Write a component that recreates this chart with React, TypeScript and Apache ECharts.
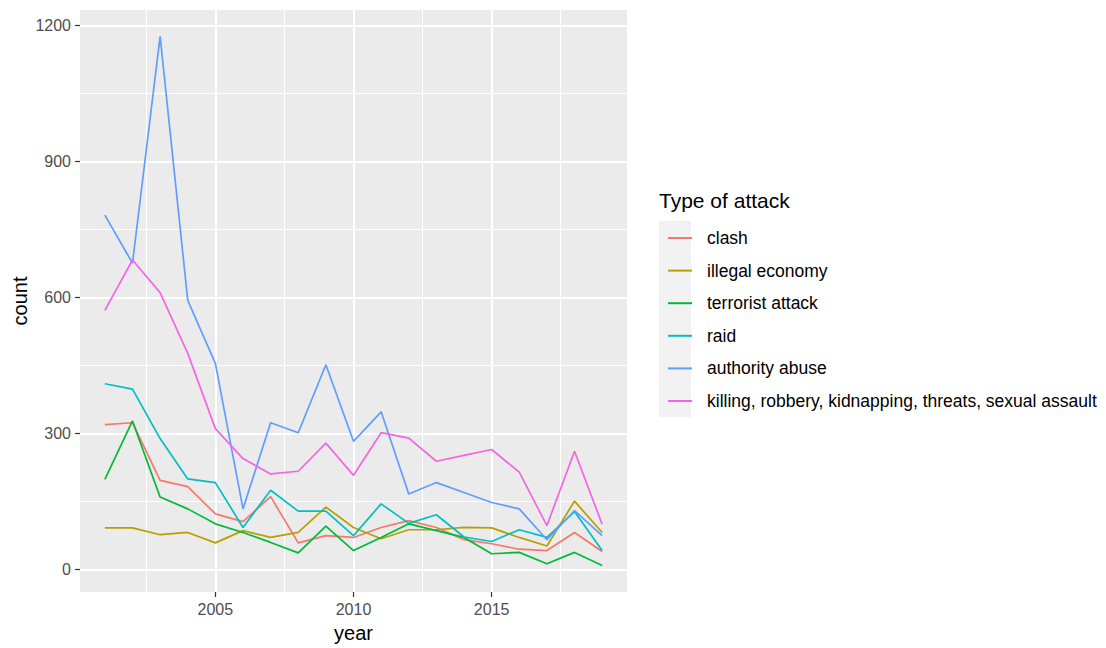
import React, { useEffect, useRef } from "react";
import * as echarts from "echarts";

const years = [2001, 2002, 2003, 2004, 2005, 2006, 2007, 2008, 2009, 2010, 2011, 2012, 2013, 2014, 2015, 2016, 2017, 2018, 2019];
const clash = [320, 324, 197, 183, 123, 106, 161, 59, 75, 71, 93, 108, 93, 66, 57, 45, 42, 82, 40];
const illegalEconomy = [92, 92, 77, 82, 59, 86, 71, 82, 138, 93, 68, 88, 88, 93, 92, 71, 52, 151, 82];
const terroristAttack = [199, 328, 160, 134, 101, 82, 60, 37, 96, 42, 71, 101, 86, 71, 35, 38, 13, 38, 9];
const raid = [410, 398, 289, 200, 192, 93, 175, 129, 129, 75, 145, 102, 121, 72, 62, 88, 71, 128, 42];
const authorityAbuse = [782, 676, 1176, 594, 455, 134, 324, 302, 452, 283, 348, 167, 192, 170, 148, 134, 66, 130, 75];
const killing = [572, 683, 611, 477, 311, 245, 211, 217, 279, 208, 302, 290, 239, 252, 265, 215, 97, 261, 100];

const seriesNames = [
  "clash",
  "illegal economy",
  "terrorist attack",
  "raid",
  "authority abuse",
  "killing, robbery, kidnapping, threats, sexual assault",
];
const seriesValues = [clash, illegalEconomy, terroristAttack, raid, authorityAbuse, killing];
const colors = ["#F8766D", "#B79F00", "#00BA38", "#00BFC4", "#619CFF", "#F564E3"];
const xTicks = [2005, 2010, 2015];
const yTicks = [0, 300, 600, 900, 1200];

const FONT = "'Liberation Sans', Arial, Helvetica, sans-serif";

export default function App() {
  const ref = useRef<HTMLDivElement>(null);
  useEffect(() => {
    if (!ref.current) return;
    const chart = echarts.init(ref.current, undefined, { renderer: "svg" });
    const series = seriesNames.map((name, i) => ({
      name,
      type: "line",
      data: years.map((y, j) => [y, seriesValues[i][j]]),
      showSymbol: false,
      symbol: "none",
      lineStyle: { width: 1.7, color: colors[i] },
      itemStyle: { color: colors[i] },
      emphasis: { disabled: true },
    }));
    chart.setOption({
      animation: false,
      textStyle: { fontFamily: FONT },
      grid: {
        left: 80,
        right: 479,
        top: 10,
        bottom: 56,
        show: true,
        backgroundColor: "#EBEBEB",
        borderWidth: 0,
      },
      xAxis: {
        type: "value",
        min: 2000.1,
        max: 2019.9,
        splitNumber: 4,
        name: "year",
        nameLocation: "middle",
        nameGap: 31,
        nameTextStyle: { color: "#000000", fontSize: 20, fontFamily: FONT, verticalAlign: "top" },
        axisLine: { show: false, onZero: false },
        axisTick: { show: true, length: 5, lineStyle: { color: "#333333", width: 1.2 }, customValues: xTicks },
        axisLabel: {
          color: "#4D4D4D",
          fontSize: 16,
          fontFamily: FONT,
          margin: 9,
          customValues: xTicks,
          formatter: (v: number) => String(Math.round(v)),
        },
        splitLine: { show: true, lineStyle: { color: "#FFFFFF", width: 2 } },
        minorTick: { show: false, splitNumber: 2 },
        minorSplitLine: { show: true, lineStyle: { color: "#FFFFFF", width: 1 } },
      },
      yAxis: {
        type: "value",
        min: -49.35,
        max: 1234.35,
        splitNumber: 4,
        name: "count",
        nameLocation: "middle",
        nameGap: 50,
        nameTextStyle: { color: "#000000", fontSize: 20, fontFamily: FONT },
        axisLine: { show: false, onZero: false },
        axisTick: { show: true, length: 5, lineStyle: { color: "#333333", width: 1.2 }, customValues: yTicks },
        axisLabel: {
          color: "#4D4D4D",
          fontSize: 16,
          fontFamily: FONT,
          margin: 9,
          customValues: yTicks,
          formatter: (v: number) => String(Math.round(v)),
        },
        splitLine: { show: true, lineStyle: { color: "#FFFFFF", width: 2 } },
        minorTick: { show: false, splitNumber: 2 },
        minorSplitLine: { show: true, lineStyle: { color: "#FFFFFF", width: 1 } },
      },
      legend: {
        orient: "vertical",
        left: 663,
        top: 223,
        icon: "rect",
        itemWidth: 24,
        itemHeight: 2,
        itemGap: 12.6,
        selectedMode: false,
        textStyle: {
          color: "#000000",
          fontSize: 17.5,
          fontFamily: FONT,
          lineHeight: 20,
          padding: [0, 0, 0, 10],
        },
        data: seriesNames,
      },
      graphic: [
        {
          type: "rect",
          left: 659,
          top: 221,
          shape: { width: 32, height: 196 },
          style: { fill: "#F2F2F2" },
          z: -1,
        },
        {
          type: "text",
          left: 659,
          top: 190,
          style: { text: "Type of attack", fill: "#000000", fontSize: 21, fontFamily: FONT },
        },
      ],
      series,
    });
    return () => chart.dispose();
  }, []);
  return (
    <div
      ref={ref}
      style={{ position: "fixed", left: 0, top: 0, width: 1106, height: 648, background: "#FFFFFF" }}
    />
  );
}
